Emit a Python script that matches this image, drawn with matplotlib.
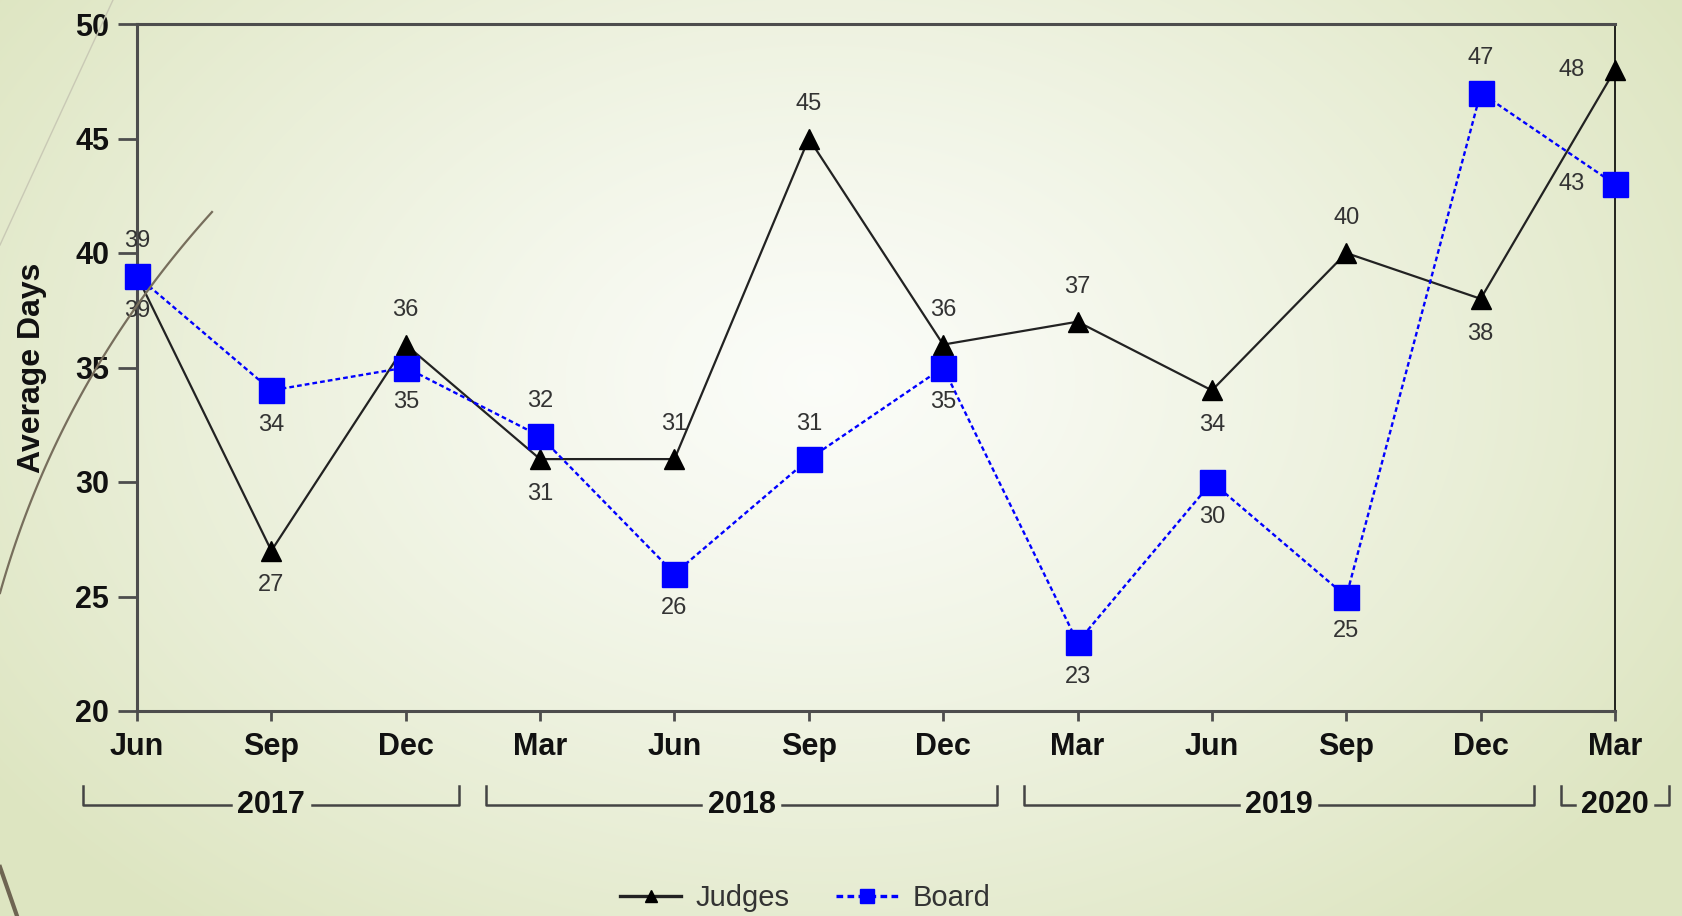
import numpy as np
import matplotlib
matplotlib.use("Agg")
import matplotlib.pyplot as plt
from matplotlib import font_manager
from matplotlib.lines import Line2D

# ---------------- DATA ----------------
MONTHS = ["Jun", "Sep", "Dec", "Mar", "Jun", "Sep", "Dec",
          "Mar", "Jun", "Sep", "Dec", "Mar"]
JUDGES = [39, 27, 36, 31, 31, 45, 36, 37, 34, 40, 38, 48]
BOARD = [39, 34, 35, 32, 26, 31, 35, 23, 30, 25, 47, 43]

# label placement: "a" above, "b" below, "l" left
JUDGES_POS = ["b", "b", "a", "b", "a", "a", "a", "a", "b", "a", "b", "l"]
BOARD_POS = ["a", "b", "b", "a", "b", "a", "b", "b", "b", "b", "a", "l"]

YEARS = ["2017", "2018", "2019", "2020"]
YEAR_SPANS = [(0, 2), (3, 6), (7, 10), (11, 11)]
# --------------------------------------

W, H, DPI = 1682, 916, 100


def pick_font(names):
    avail = {f.name for f in font_manager.fontManager.ttflist}
    for n in names:
        if n in avail:
            return n
    return "DejaVu Sans"


NARROW = pick_font(["Liberation Sans Narrow", "Arial Narrow", "Liberation Sans"])
SANS = pick_font(["Liberation Sans", "DejaVu Sans"])
plt.rcParams["font.family"] = [SANS, "DejaVu Sans"]

fig = plt.figure(figsize=(W / DPI, H / DPI), dpi=DPI)

# background gradient
bg = fig.add_axes([0, 0, 1, 1], zorder=-10)
yy, xx = np.mgrid[0:H, 0:W]
d = np.sqrt(((xx - 820) / 1000.0) ** 2 + ((yy - 380) / 700.0) ** 2)
t = np.clip(d, 0, 1) ** 1.2
white = np.array([0.985, 0.99, 0.975])
green = np.array([0.87, 0.90, 0.76])
img = white[None, None, :] * (1 - t[..., None]) + green[None, None, :] * t[..., None]
bg.imshow(img, aspect="auto", extent=[0, W, H, 0])
bg.set_xlim(0, W)
bg.set_ylim(H, 0)
bg.axis("off")


# theme arcs on the left (quadratic curves in pixel space)
def px_curve(p0, p1, p2, **kw):
    s = np.linspace(0, 1, 60)[:, None]
    pts = (1 - s) ** 2 * np.array(p0) + 2 * s * (1 - s) * np.array(p1) + s ** 2 * np.array(p2)
    fig.add_artist(Line2D(pts[:, 0] / W, 1 - pts[:, 1] / H,
                          transform=fig.transFigure, **kw))


px_curve((0, 245), (55, 125), (113, 0), color="#c9c9b5", lw=1.0)
px_curve((212, 212), (60, 380), (0, 593), color="#776e5c", lw=1.6)
px_curve((0, 867), (8, 890), (17, 916), color="#6e6552", lw=3.0)

ax = fig.add_axes([137 / W, 1 - 711 / H, (1615 - 137) / W, (711 - 24) / H])
ax.set_facecolor("none")

x = np.arange(len(MONTHS))
ax.plot(x, JUDGES, color="#222222", lw=1.6, marker="^", ms=15,
        mfc="black", mec="black", mew=1, label="Judges", zorder=3,
        clip_on=False)
ax.plot(x, BOARD, color="#0000ff", lw=1.7, ls=(0, (2.0, 1.3)), marker="s",
        ms=18, mfc="#0000ff", mec="#0000ff", mew=1, label="Board", zorder=4,
        clip_on=False)

offsets = {"a": (0, 25), "b": (0, -25), "l": (-31, 0)}
for series, poss in ((JUDGES, JUDGES_POS), (BOARD, BOARD_POS)):
    for xi, v, p in zip(x, series, poss):
        ax.annotate(str(v), (xi, v), xytext=offsets[p], textcoords="offset points",
                    ha="center", va="center", fontsize=17, color="#333333",
                    fontfamily=SANS, zorder=5, annotation_clip=False)

ax.set_xlim(0, len(MONTHS) - 1)
ax.set_ylim(20, 50)
ax.set_yticks(range(20, 51, 5))
ax.set_xticks(x)
ax.set_xticklabels(MONTHS)

for lab in ax.get_xticklabels() + ax.get_yticklabels():
    lab.set_fontfamily(NARROW)
    lab.set_fontweight("bold")
    lab.set_fontsize(22)
    lab.set_color("#111111")

ax.tick_params(axis="y", length=14, width=2, color="#4d4d4d", pad=6)
ax.tick_params(axis="x", length=7, width=2, color="#4d4d4d", pad=8)

for side in ("left", "bottom", "top"):
    ax.spines[side].set_color("#4d4d4d")
    ax.spines[side].set_linewidth(2.2)
ax.spines["right"].set_color("black")
ax.spines["right"].set_linewidth(1.2)

ax.set_ylabel("Average Days", fontsize=23, fontweight="bold", fontfamily=SANS,
              color="#111111")
ax.yaxis.set_label_coords(-0.061, 0.5)

# year brackets under the month labels
trans = ax.get_xaxis_transform()
y_line, y_top = -0.1375, -0.109
gap = 0.3
for year, (a, b) in zip(YEARS, YEAR_SPANS):
    left, right = a - 0.4, b + 0.4
    mid = (a + b) / 2
    ax.plot([left, left, mid - gap], [y_top, y_line, y_line], color="#444444",
            lw=1.8, transform=trans, clip_on=False)
    ax.plot([mid + gap, right, right], [y_line, y_line, y_top], color="#444444",
            lw=1.8, transform=trans, clip_on=False)
    ax.text(mid, y_line, year, transform=trans, ha="center", va="center",
            fontsize=22, fontweight="bold", fontfamily=NARROW, color="#111111")

leg = fig.legend(loc="center", bbox_to_anchor=(805 / W, 1 - 898 / H), ncol=2,
                 frameon=False, fontsize=21, handlelength=2.1, columnspacing=1.6,
                 handletextpad=0.5, markerscale=0.55)
for txt in leg.get_texts():
    txt.set_color("#333333")
for h in leg.legend_handles:
    h.set_linewidth(2.4)

fig.savefig("out.png", dpi=DPI)
